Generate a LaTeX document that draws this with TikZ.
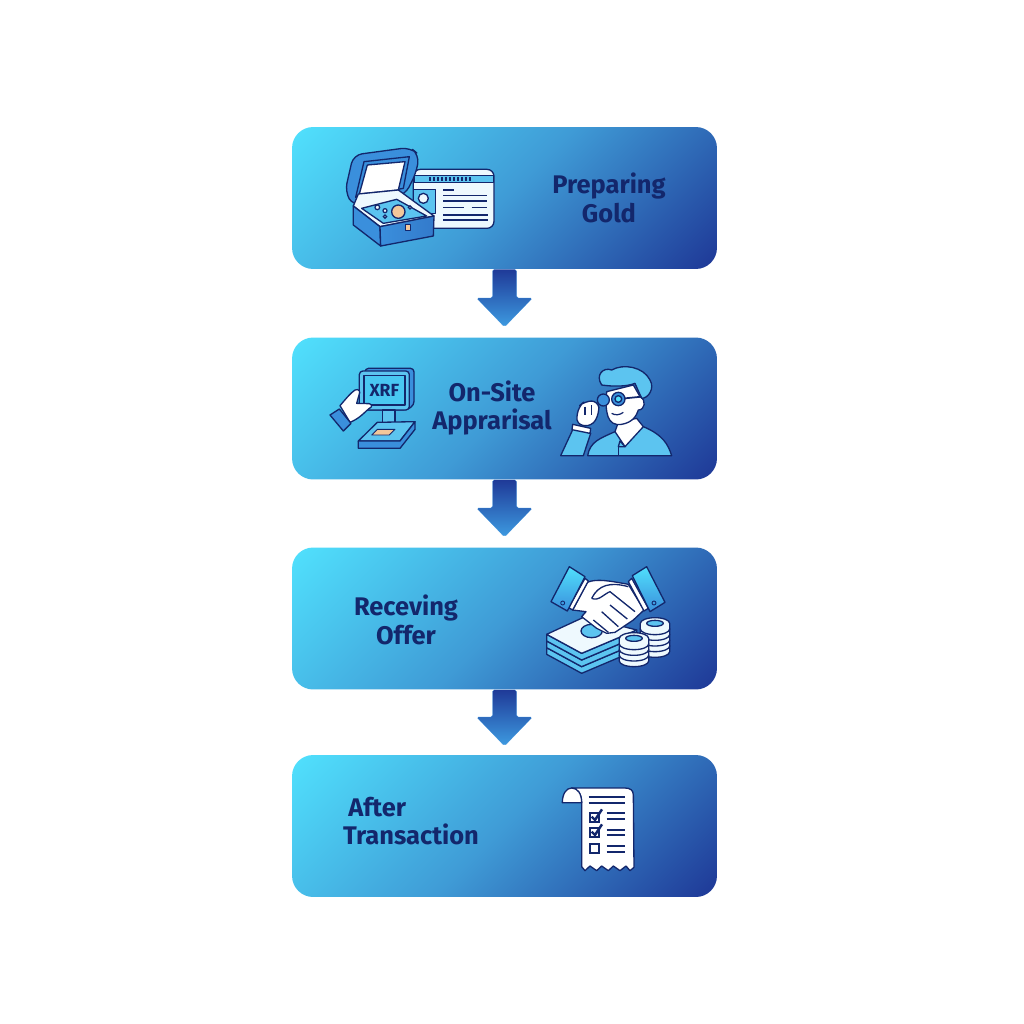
\documentclass[tikz,border=0pt]{standalone}
\usepackage{fontspec}
\setmainfont{Fira Sans}
\usetikzlibrary{calc}
\usetikzlibrary{positioning}
\definecolor{navy}{HTML}{13276C}
\definecolor{cyanlt}{HTML}{50DFFC}
\definecolor{bluemid}{HTML}{3F9BD6}
\definecolor{bluedk}{HTML}{1F3A98}
\definecolor{iconblue}{HTML}{3A8FDC}
\definecolor{iconlt}{HTML}{5CC4F0}
\definecolor{paper}{HTML}{EEF9FE}
\definecolor{tan}{HTML}{F2C79A}
\pgfdeclareverticalshading{stepfill}{100bp}{%
  color(0bp)=(bluedk); color(15.5bp)=(bluedk); color(50bp)=(bluemid);
  color(84.5bp)=(cyanlt); color(100bp)=(cyanlt)}
\tikzstyle{stepbox}=[%
  shade,
  shading=stepfill,
  shading angle=45,
  rounded corners=12pt,
  inner sep=0pt,
  minimum height=2.84cm,
  minimum width=8.5cm
]
\tikzstyle{steplabel}=[%
  text=navy,
  font=\fontsize{14.5}{16.2}\selectfont\bfseries
]
\tikzstyle{flowarrow}=[%
  shade,
  top color=bluedk,
  bottom color=iconblue!85!cyanlt,
  draw=iconblue,
  line width=0.1pt,
  rounded corners=1pt
]
\tikzset{
  ink/.style={draw=navy, line width=0.75pt, line join=round, line cap=round},
  blue/.style={ink, fill=iconblue},
  light/.style={ink, fill=iconlt},
  white/.style={ink, fill=paper}
}

\begin{document}
\begin{tikzpicture}[x=0.02cm, y=-0.02cm]
    \useasboundingbox (0, 0) rectangle (1024, 1024);

    \node[stepbox] (prep) at (504.5, 198) {};
    \node[stepbox] (appr) at (504.5, 408.5) {};
    \node[stepbox] (offr) at (504.5, 618.5) {};
    \node[stepbox] (tran) at (504.5, 826) {};

    \node[steplabel, align=center] (prepl) at (609, 198) {Preparing\\Gold};
    \node[steplabel, align=center] (apprl) at (492, 408) {On-Site\\Apprarisal};
    \node[steplabel, align=center] (offrl) at (406, 620) {Receving\\Offer};
    \node[steplabel, align=left] (tranl) at (411, 821) {\hspace*{3pt}After\\Transaction};

    % arrows between the steps
    \coordinate (tipa) at (504.5, 327);
    \coordinate (tipb) at (504.5, 537);
    \coordinate (tipc) at (504.5, 746);
    \foreach \from/\tip in {prep/tipa, appr/tipb, offr/tipc} {%
      \draw[flowarrow] ($(\from.south)+(-12, 0)$) -- ($(\tip)+(-12, -29)$)
        -- ($(\tip)+(-28, -29)$) -- (\tip) -- ($(\tip)+(28, -29)$)
        -- ($(\tip)+(12, -29)$) -- ($(\from.south)+(12, 0)$) -- cycle;
    }

    % jewellery box and id card
    \begin{scope}[shift={(290, 120)}, scale=1/3]
      \draw[white, rounded corners=4pt] (370, 148) rectangle (612, 325);
      \draw[light] (372, 166) rectangle (610, 187);
      \foreach \x in {420, 432, ..., 540} {%
        \draw[navy, line width=0.9pt] (\x, 172) -- (\x, 182);
      }
      \draw[light] (370, 208) rectangle (437, 280);
      \draw[white] (400, 235) circle (15);
      \foreach \y/\a/\b in {210/460/492, 226/460/590, 243/460/590, 262/460/522, 262/545/592, 285/460/595, 300/460/595} {%
        \draw[navy, line width=0.8pt] (\a, \y) -- (\b, \y);
      }
      \draw[blue, rounded corners=5pt] (190, 258) -- (165, 215) -- (190, 105) -- (360, 82) -- (388, 105) -- (378, 160) -- (345, 225) -- cycle;
      \draw[ink, fill=iconblue] (197, 232) -- (222, 125) -- (358, 110) -- (340, 205) -- cycle;
      \draw[white, fill=white] (208, 222) -- (232, 135) -- (345, 125) -- (325, 210) -- cycle;
      \draw[white] (190, 258) -- (205, 222) -- (325, 210) -- (432, 288) -- (270, 320) -- cycle;
      \draw[light] (215, 265) -- (320, 238) -- (410, 288) -- (280, 310) -- cycle;
      \draw[navy, line width=0.7pt, fill=paper] (262, 262) circle (7) (285, 272) circle (6) (285, 290) circle (5) (360, 262) circle (5);
      \draw[ink, fill=tan] (325, 275) circle (20);
      \draw[blue] (190, 258) -- (190, 315) -- (272, 378) -- (270, 320) -- cycle;
      \draw[ink, left color=iconblue, right color=iconblue!75!bluedk] (270, 320) -- (272, 378) -- (430, 348) -- (432, 288) -- cycle;
      \draw[ink, line width=0.5pt, fill=tan] (347, 312) rectangle (362, 332);
    \end{scope}

    % xrf machine and hand
    \begin{scope}[shift={(290, 335)}, scale=1/3]
      \draw[blue, rounded corners=2pt] (225, 100) -- (372, 100) -- (372, 210) -- (350, 225) -- (225, 225) -- cycle;
      \draw[ink, fill=iconlt, rounded corners=2pt] (208, 108) rectangle (358, 225);
      \draw[ink, fill=cyanlt!70!iconblue] (222, 122) rectangle (345, 210);
      \node[text=navy, font=\fontsize{10}{10}\selectfont\bfseries] (xrf) at (283, 165) {XRF};
      \draw[light] (278, 225) rectangle (315, 272);
      \draw[light] (205, 318) -- (262, 262) -- (375, 260) -- (330, 318) -- cycle;
      \draw[blue] (205, 318) -- (205, 340) -- (330, 340) -- (375, 283) -- (375, 260) -- (330, 318) -- cycle;
      \draw[ink, line width=0.5pt, fill=tan] (245, 300) -- (262, 283) -- (315, 283) -- (298, 300) -- cycle;
      \draw[white, fill=white] (150, 212) .. controls (165, 195) and (180, 175) .. (195, 165) .. controls (208, 160) and (212, 170) .. (207, 180) -- (200, 205) -- (238, 206) .. controls (248, 208) and (246, 218) .. (238, 220) .. controls (225, 230) and (210, 250) .. (180, 262) -- cycle;
      \draw[blue] (120, 240) -- (148, 222) -- (183, 265) -- (160, 288) -- cycle;
      % apparaiser
      \draw[light] (893, 362) .. controls (900, 320) and (930, 310) .. (975, 290) -- (1060, 275) .. controls (1120, 300) and (1135, 330) .. (1145, 362) -- cycle;
      \draw[navy, line width=0.75pt] (985, 330) -- (985, 362);
      \draw[white, fill=white] (975, 290) -- (1005, 335) -- (1060, 275) -- (1040, 250) -- (985, 262) -- cycle;
      \draw[light] (990, 318) -- (1005, 335) -- (985, 335) -- cycle;
      \draw[white, fill=white] (950, 170) .. controls (945, 230) and (950, 275) .. (995, 268) .. controls (1030, 262) and (1040, 240) .. (1045, 225) .. controls (1065, 225) and (1070, 195) .. (1050, 185) -- (1030, 150) -- cycle;
      \draw[light] (935, 150) .. controls (915, 120) and (940, 95) .. (965, 105) .. controls (1000, 85) and (1060, 95) .. (1080, 135) .. controls (1095, 160) and (1075, 190) .. (1055, 190) -- (1035, 145) .. controls (1010, 155) and (970, 155) .. cycle;
      \draw[navy, line width=1pt] (1005, 190) -- (1055, 185);
      \draw[ink, fill=iconblue] (985, 192) circle (20);
      \draw[ink, fill=cyanlt] (985, 192) circle (10);
      \draw[ink, fill=iconblue] (940, 195) circle (18);
      \draw[navy, line width=0.7pt] (965, 235) .. controls (975, 242) and (990, 240) .. (1000, 232);
      \draw[light] (812, 362) -- (850, 280) -- (902, 295) -- (880, 362) -- cycle;
      \draw[white, fill=white] (848, 268) -- (902, 280) -- (900, 295) -- (846, 284) -- cycle;
      \draw[white, fill=white, rounded corners=4pt] (858, 268) -- (865, 215) -- (885, 198) -- (925, 198) -- (928, 235) -- (905, 275) -- cycle;
      \draw[navy, line width=0.6pt] (885, 215) -- (885, 240) (905, 210) -- (905, 240);
    \end{scope}

    % handshake over money
    \begin{scope}[shift={(290, 545)}, scale=1/3]
      \foreach \y in {40, 20, 0} {%
        \draw[light] (770, 268+\y) -- (875, 325+\y) -- (1040, 255+\y) -- (1040, 275+\y) -- (875, 345+\y) -- (770, 288+\y) -- cycle;
      }
      \draw[white] (770, 268) -- (885, 215) -- (1040, 255) -- (875, 325) -- cycle;
      \draw[light] (905, 258) ellipse (32 and 20);
      \foreach \cx/\cy/\dy in {1095/330/4, 1032/358/3} {%
        \foreach \k in {0, ..., \dy} {%
          \draw[white] (\cx-44, \cy-\k*17-10) arc (180:0:44 and 17) -- (\cx+44, \cy-\k*17-27) arc (0:-180:44 and 17) -- cycle;
        }
        \draw[light] (\cx, \cy-\dy*17-27) ellipse (25 and 9);
      }
      \draw[white, fill=white] (892, 112) .. controls (920, 100) and (960, 108) .. (1015, 118) -- (1062, 195) -- (1030, 225) -- (975, 262) -- (950, 265) -- (920, 250) -- (875, 215) -- (888, 200) -- (848, 195) -- cycle;
      \draw[navy, line width=0.75pt] (905, 160) .. controls (925, 120) and (960, 110) .. (1015, 125);
      \draw[navy, line width=0.75pt] (905, 160) .. controls (925, 170) and (945, 145) .. (960, 140) -- (1035, 200);
      \draw[navy, line width=0.75pt] (1012, 222) -- (960, 180) (985, 245) -- (935, 200) (955, 262) -- (910, 225);
      \draw[white, fill=white] (836, 188) -- (885, 100) -- (895, 108) -- (848, 195) -- cycle;
      \draw[blue, top color=cyanlt, bottom color=iconblue] (783, 170) -- (838, 65) -- (885, 95) -- (832, 198) -- cycle;
      \draw[ink, line width=0.5pt] (818, 174) circle (6);
      \draw[white, fill=white] (1025, 100) -- (1075, 190) -- (1062, 198) -- (1015, 110) -- cycle;
      \draw[blue, top color=cyanlt, bottom color=iconblue] (1070, 65) -- (1125, 172) -- (1080, 200) -- (1027, 92) -- cycle;
      \draw[ink, line width=0.5pt] (1092, 174) circle (6);
    \end{scope}

    % receipt
    \begin{scope}[shift={(290, 750)}, scale=1/3]
      \draw[white, fill=white] (875, 158) -- (875, 350) -- (885, 362) -- (900, 348) -- (920, 362) -- (935, 348) -- (955, 362) -- (970, 348) -- (990, 362) -- (1008, 348) -- (1020, 362) -- (1032, 352) -- (1030, 135) .. controls (1030, 120) and (1020, 114) .. (1005, 114) -- (845, 114) .. controls (860, 114) and (875, 130) .. cycle;
      \draw[ink, fill=white] (817, 158) .. controls (817, 130) and (830, 114) .. (845, 114) .. controls (862, 114) and (875, 130) .. (875, 158) -- cycle;
      \foreach \y/\a in {140/896, 159/896, 189/950, 207/950, 239/950, 256/950, 288/950, 306/950} {%
        \draw[navy, line width=1pt] (\a, \y) -- (1006, \y);
      }
      \foreach \y in {188, 233, 283} {%
        \draw[navy, line width=1pt] (899, \y) rectangle (927, \y+27);
      }
      \foreach \y in {205, 250} {%
        \draw[navy, line width=1.4pt] (905, \y-5) -- (915, \y+5) -- (936, \y-27);
      }
    \end{scope}
  \end{tikzpicture}
\end{document}
